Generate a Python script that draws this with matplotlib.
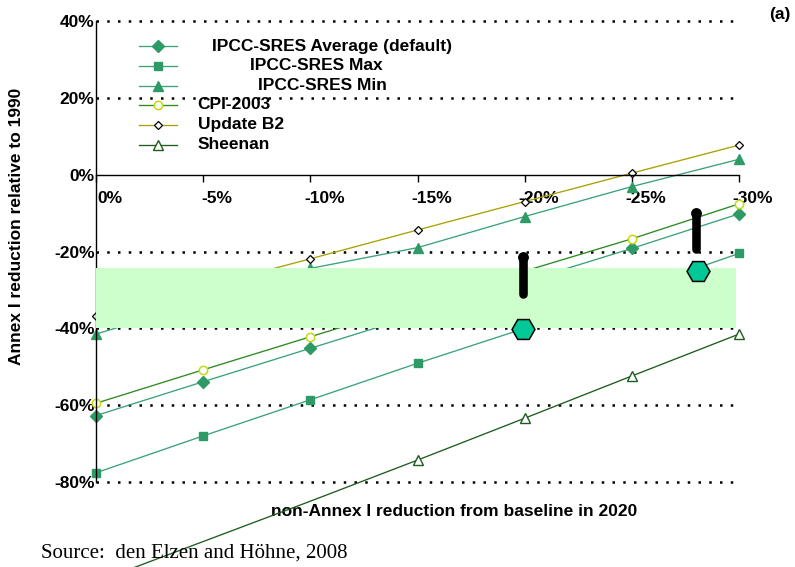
import matplotlib
matplotlib.use("Agg")
import matplotlib.pyplot as plt
import numpy as np
from matplotlib.lines import Line2D
from matplotlib.transforms import ScaledTranslation

# ---- data -----------------------------------------------------------------
non_annex_reduction = [0, -5, -10, -15, -20, -25, -30]
x_tick_labels = ["0%", "-5%", "-10%", "-15%", "-20%", "-25%", "-30%"]
y_ticks = [40, 20, 0, -20, -40, -60, -80]
y_tick_labels = ["40%", "20%", "0%", "-20%", "-40%", "-60%", "-80%"]
grid_levels = [40, 20, -20, -40, -60, -80]

sres_average = [-62.7, -53.9, -45.2, -36.5, -27.8, -19.2, -10.2]
sres_max = [-77.6, -68.0, -58.6, -49.1, -40.0, -30.2, -20.5]
sres_min = [-41.5, -33.0, -24.4, -19.0, -10.9, -3.1, 4.0]
cpi_2003 = [-59.5, -50.8, -42.2, -33.6, -25.1, -16.7, -7.6]
update_b2 = [-36.9, -29.3, -21.9, -14.4, -7.0, 0.4, 7.7]
sheenan = [-106.0, -95.5, -85.0, -74.3, -63.4, -52.4, -41.5]

# target range band (Annex I reduction)
band_x = [0, -29.85]
band_low, band_high = -40.0, -24.2

# ranges (black bars) and points (hexagons)
range_x = [-19.9, -28.0]
range_top = [-21.5, -10.0]
range_bottom = [-31.0, -19.4]
point_x = [-19.9, -28.1]
point_y = [-40.2, -25.2]

# ---- figure ---------------------------------------------------------------
W, H, DPI = 795, 567, 100
fig = plt.figure(figsize=(W / DPI, H / DPI), dpi=DPI)
plt.rcParams["font.family"] = ["Liberation Sans", "DejaVu Sans"]

def fx(px):
    return px / W

def fy(py):
    return 1 - py / H

ax = fig.add_axes([96 / W, (H - 482) / H, 643 / W, 461 / H])
ax.set_xlim(0, -30)
ax.set_ylim(-80, 40)

green = "#2E9A66"
green_line = "#3AA377"
cpi_line = "#2A8C1E"
cpi_edge = "#C4DA10"
b2_line = "#A8A200"
sheen = "#1E5C1E"

series = [
    ("IPCC-SRES Average (default)", sres_average, green_line,
     dict(marker="D", ms=6.5, mfc=green, mec=green)),
    ("IPCC-SRES Max", sres_max, green_line,
     dict(marker="s", ms=5.5, mfc=green, mec=green)),
    ("IPCC-SRES Min", sres_min, green_line,
     dict(marker="^", ms=7.5, mfc=green, mec=green)),
    ("CPI-2003", cpi_2003, cpi_line,
     dict(marker="o", ms=6, mfc="white", mec=cpi_edge, mew=1.1)),
    ("Update B2", update_b2, b2_line,
     dict(marker="D", ms=4.2, mfc="white", mec="black", mew=0.9)),
]

for name, vals, lc, mk in series:
    ax.plot(non_annex_reduction, vals, color=lc, lw=0.95, zorder=2,
            clip_on=False, **mk)

# Sheenan line runs past the axes; only the markers inside the range show
sheen_mk = dict(marker="^", ms=6.5, mfc="white", mec=sheen, mew=1.0)
ax.plot(non_annex_reduction, sheenan, color=sheen, lw=0.95, zorder=2,
        clip_on=False)
sheen_visible = np.where(np.array(sheenan) >= -80, sheenan, np.nan)
ax.plot(non_annex_reduction, sheen_visible, ls="none", zorder=2,
        clip_on=False, **sheen_mk)

# dotted reference lines
ax.hlines(grid_levels, 0, -30, colors="black", lw=1.8,
          linestyles=[(0, (1, 3.3))], zorder=1.5, clip_on=False)

# band
ax.fill_between(band_x, band_low, band_high, color="#CCFFCC", lw=0, zorder=3)

# ranges and points
ax.vlines(range_x, range_bottom, range_top, colors="black", lw=6.2,
          zorder=5, capstyle="round")
for x0, yt in zip(range_x, range_top):
    ax.plot([x0], [yt], marker="o", ms=6.8, color="black", zorder=5)
ax.plot(point_x, point_y, ls="none", marker="H", ms=16.5, mfc="#00C896",
        mec="black", mew=1.1, zorder=6)

# axes styling
for s in ("top", "right"):
    ax.spines[s].set_visible(False)
ax.spines["bottom"].set_position(("data", 0))
ax.spines["left"].set_linewidth(1.0)
ax.spines["bottom"].set_linewidth(1.0)

ax.set_yticks(y_ticks)
ax.set_yticklabels(y_tick_labels, fontsize=12.5, fontweight="bold")
ax.tick_params(axis="y", length=0, pad=1)

ax.set_xticks(non_annex_reduction)
ax.set_xticklabels(x_tick_labels, fontsize=12.5, fontweight="bold")
ax.tick_params(axis="x", direction="out", length=5, width=1, pad=7)
shift = ScaledTranslation(14 / DPI, 0, fig.dpi_scale_trans)
for lab in ax.get_xticklabels():
    lab.set_transform(lab.get_transform() + shift)

ax.set_xlabel("non-Annex I reduction from baseline in 2020", fontsize=12.5,
              fontweight="bold", va="center")
ax.xaxis.set_label_coords((454.5 - 96) / 643, (482 - 512) / 461)
ax.set_ylabel("Annex I reduction relative to 1990", fontsize=12.5,
              fontweight="bold", va="center")
ax.yaxis.set_label_coords((17 - 96) / 643, (482 - 226) / 461)

# legend, drawn by hand so each label sits where it belongs
rows_y = [46, 66, 86, 105, 125, 145]
text_x = [212, 250, 258, 197, 198, 198]
legend_items = series + [("Sheenan", sheenan, sheen, sheen_mk)]
for (name, _, lc, mk), ry, tx in zip(legend_items, rows_y, text_x):
    fig.add_artist(Line2D([fx(139), fx(177)], [fy(ry), fy(ry)], color=lc,
                          lw=0.95, transform=fig.transFigure))
    fig.add_artist(Line2D([fx(158)], [fy(ry)], transform=fig.transFigure,
                          ls="none", **mk))
    fig.text(fx(tx), fy(ry), name, fontsize=12.5, fontweight="bold",
             ha="left", va="center")

fig.text(fx(791), fy(15), "(a)", fontsize=12.5, fontweight="bold",
         ha="right", va="center")
fig.text(fx(41), fy(553), "Source:  den Elzen and Höhne, 2008",
         family=["Liberation Serif", "DejaVu Serif"], fontsize=15,
         ha="left", va="center")

fig.savefig("out.png", dpi=DPI)
